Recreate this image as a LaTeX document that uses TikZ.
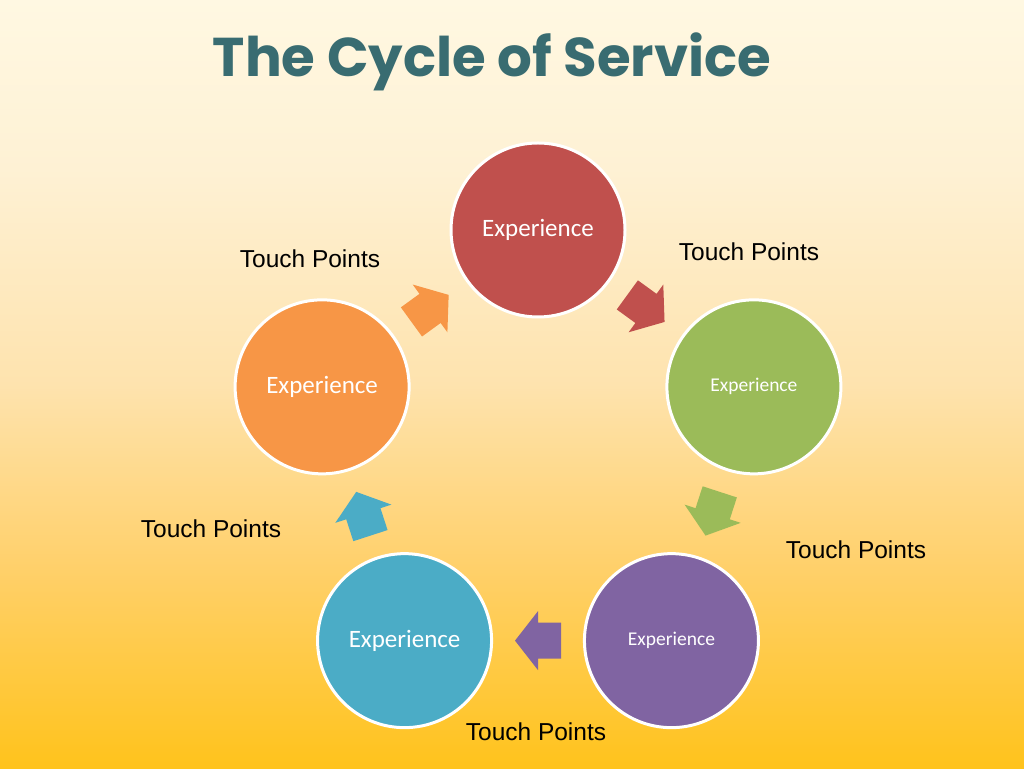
\documentclass[tikz,border=0pt]{standalone}
\usepackage{fontspec}
\setmainfont{Liberation Sans}
\newfontfamily\calfont{Carlito}
\newfontfamily\titlefont{Poppins}
\usetikzlibrary{calc}
\definecolor{bgtop}{HTML}{FFF8E2}
\definecolor{bgupper}{HTML}{FEF1D4}
\definecolor{bgmid}{HTML}{FEE3AE}
\definecolor{bglow}{HTML}{FFD06A}
\definecolor{bgbot}{HTML}{FFC31C}
\definecolor{cred}{HTML}{C0504D}
\definecolor{cgreen}{HTML}{9BBB59}
\definecolor{cpurple}{HTML}{8064A2}
\definecolor{cblue}{HTML}{4BACC6}
\definecolor{corange}{HTML}{F79646}
\definecolor{ctitle}{HTML}{396C71}
\pgfdeclareverticalshading{bgshade}{100bp}{color(0bp)=(bgbot); color(25bp)=(bgbot); color(38bp)=(bglow); color(50bp)=(bgmid); color(64bp)=(bgupper); color(75bp)=(bgtop); color(100bp)=(bgtop)}
\tikzset{
  stage/.style={circle, fill=#1, draw=white, line width=3pt, minimum size=174pt, inner sep=0pt, text=white},
  bigtxt/.style={font=\calfont\fontsize{25}{30}\selectfont},
  smalltxt/.style={font=\calfont\fontsize{19.5}{24}\selectfont},
  touch/.style={font=\fontsize{24.5}{29}\selectfont, text=black, inner sep=0pt},
}
\newcommand{\blockarrow}[3]{% #1 color, #2 coordinate, #3 angle
  \fill[#1, shift={(#2)}, rotate=#3] (-23pt,-18pt) -- (0pt,-18pt) -- (0pt,-29.5pt) -- (23pt,0pt) -- (0pt,29.5pt) -- (0pt,18pt) -- (-23pt,18pt) -- cycle;}
\begin{document}
\begin{tikzpicture}[x=1pt,y=1pt]
\shade[shading=bgshade] (0,0) rectangle (1024,768);
\useasboundingbox (0,0) rectangle (1024,768);
\coordinate (ctr) at (538,311);
\node[stage=cred, bigtxt] (red) at ($(ctr)+(90:227)$) {Experience};
\node[stage=cgreen, smalltxt] (green) at ($(ctr)+(18:227)$) {Experience};
\node[stage=cpurple, smalltxt] (purple) at ($(ctr)+(-54:227)$) {Experience};
\node[stage=cblue, bigtxt] (blue) at ($(ctr)+(-126:227)$) {Experience};
\node[stage=corange, bigtxt] (orange) at ($(ctr)+(162:227)$) {Experience};
\coordinate (m1) at ($(orange)!0.5!(red)$);
\coordinate (m2) at ($(red)!0.5!(green)$);
\coordinate (m3) at ($(green)!0.5!(purple)$);
\coordinate (m4) at ($(purple)!0.5!(blue)$);
\coordinate (m5) at ($(blue)!0.5!(orange)$);
\blockarrow{corange}{m1}{36}
\blockarrow{cred}{m2}{-36}
\blockarrow{cgreen}{m3}{-108}
\blockarrow{cpurple}{m4}{180}
\blockarrow{cblue}{m5}{108}
\node[touch] (t1) at (310,509) {Touch Points};
\node[touch] (t2) at (749,516) {Touch Points};
\node[touch] (t3) at (856,218) {Touch Points};
\node[touch] (t4) at (536,36) {Touch Points};
\node[touch] (t5) at (211,239) {Touch Points};
\node[text=ctitle, inner sep=0pt] (title) at (492,706) {\resizebox{558pt}{!}{\titlefont\bfseries The Cycle of Service}};
\end{tikzpicture}
\end{document}
